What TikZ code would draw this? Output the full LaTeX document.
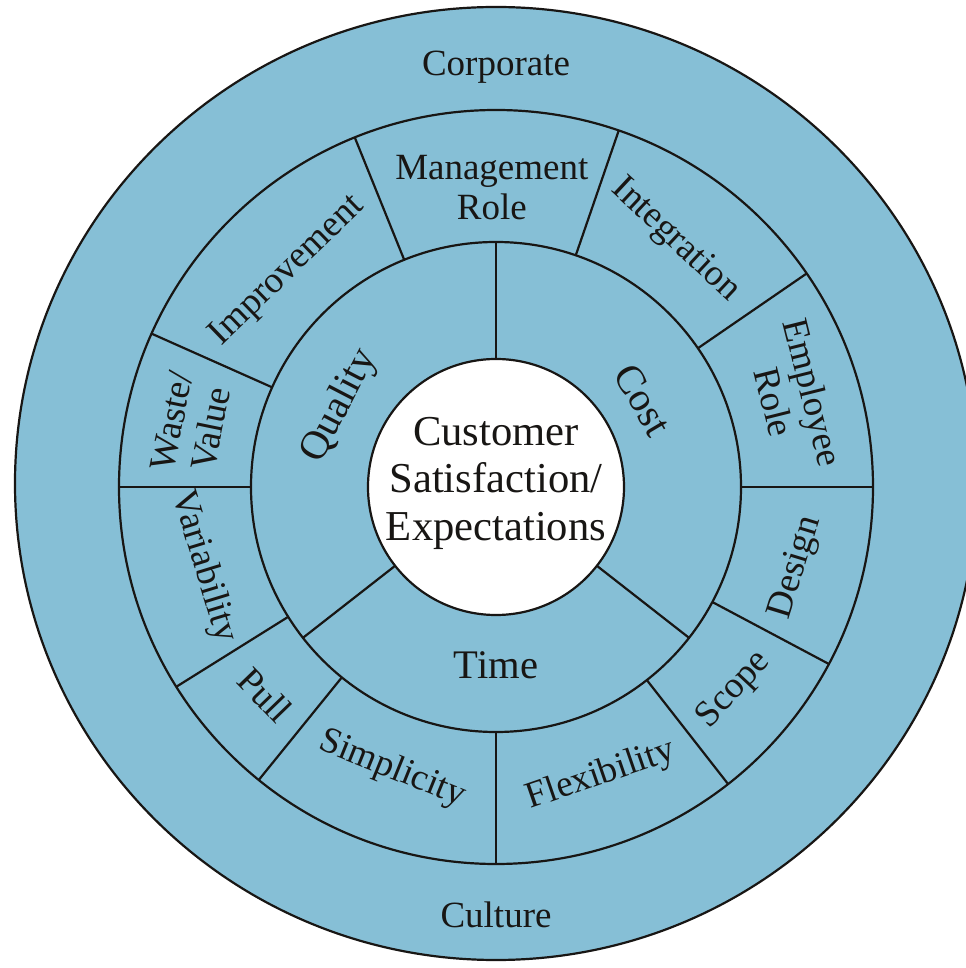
\documentclass[tikz,border=0pt]{standalone}
\usepackage{fontspec}
\setmainfont{Liberation Serif}
\usetikzlibrary{calc}
\definecolor{wheelBlue}{RGB}{134, 191, 214}
\definecolor{inkBlack}{RGB}{24, 22, 20}

\tikzset{
  ring/.style={draw=inkBlack, line width=1.1pt, fill=wheelBlue},
  spoke/.style={draw=inkBlack, line width=1.1pt},
  seglabel/.style={font=\fontsize{18.5pt}{20pt}\selectfont, text=inkBlack, align=center, inner sep=0pt},
  corelabel/.style={font=\fontsize{20.3pt}{22pt}\selectfont, text=inkBlack, inner sep=0pt},
  hublabel/.style={font=\fontsize{21.3pt}{23.75pt}\selectfont, text=inkBlack, align=center, inner sep=0pt}
}

\begin{document}
\begin{tikzpicture}[x=0.5pt, y=0.5pt]
  \fill[white] (-496,-481) rectangle (469,487);
  \useasboundingbox (-496,-481) rectangle (469,487);

  % rings, outside in
  \draw[ring] (0,3.5) ellipse [x radius=481, y radius=476.5];
  \draw[ring] (0,0) circle [radius=377];
  \draw[ring] (0,0) circle [radius=245];
  \draw[spoke, fill=white] (0,0) circle [radius=128];

  % spokes
  \foreach \a in {90,218,322}
    \draw[spoke] (\a:128) -- (\a:245);
  \foreach \a in {0,34.5,71,112,156,180,212,231,270,308,332}
    \draw[spoke] (\a:245) -- (\a:377);

  % hub
  \node[hublabel] (hub) at (0,4) {Customer\\Satisfaction/\\Expectations};

  % inner ring
  \node[corelabel, rotate=62.6] (quality) at (152.6:176) {Quality};
  \node[corelabel, rotate=-59.4] (cost) at (30.6:171) {Cost};
  \node[corelabel] (time) at (270:178) {Time};

  % outer ring
  \node[seglabel, rotate=-76] (employee) at (16.8:311) {Employee\\Role};
  \node[seglabel, rotate=-43] (integration) at (54:305) {Integration};
  \node[seglabel] (management) at (90.8:299) {Management\\Role};
  \node[seglabel, rotate=44] (improvement) at (134:300) {Improvement};
  \node[seglabel, rotate=78.5] (waste) at (168.5:311) {Waste/\\Value};
  \node[seglabel, rotate=-73] (variability) at (195.3:303) {Variability};
  \node[seglabel, rotate=-46] (pull) at (222:311) {Pull};
  \node[seglabel, rotate=-22] (simplicity) at (249.8:301) {Simplicity};
  \node[seglabel, rotate=19] (flexibility) at (290:307) {Flexibility};
  \node[seglabel, rotate=47] (scope) at (319.5:313) {Scope};
  \node[seglabel, rotate=73] (design) at (345:311) {Design};

  % culture band
  \node[seglabel] (corporate) at (0,420) {Corporate};
  \node[seglabel] (culture) at (0,-428) {Culture};
\end{tikzpicture}
\end{document}
